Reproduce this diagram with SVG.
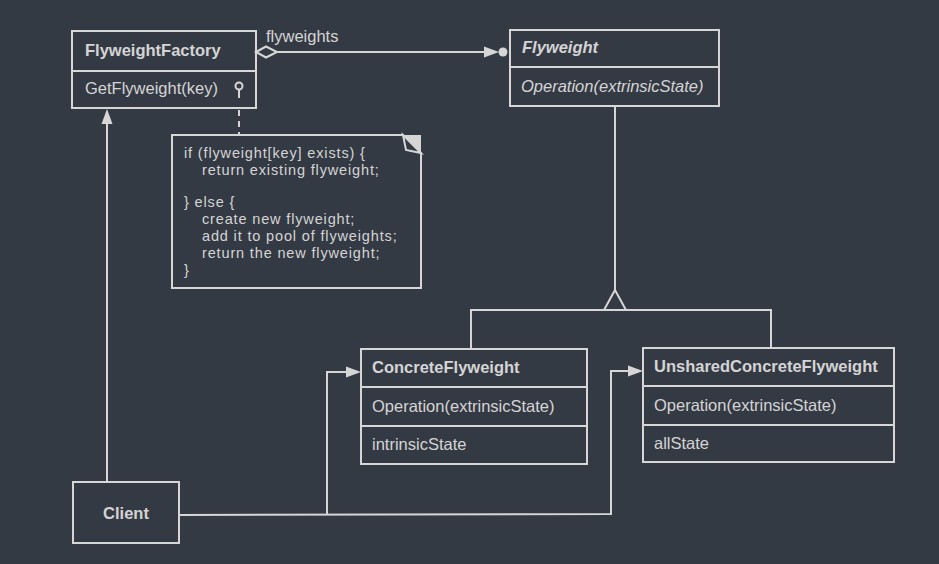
<svg xmlns="http://www.w3.org/2000/svg" width="939" height="564" viewBox="0 0 939 564">
<style>
.bg{fill:#343a44}
.box{fill:none;stroke:#d6d6d6;stroke-width:2}
.ln{fill:none;stroke:#d6d6d6;stroke-width:2}
.t{font-family:"Liberation Sans",Arial,sans-serif;font-size:16.5px;fill:#d4d4d4}
.n{font-family:"Liberation Sans",Arial,sans-serif;font-size:14.5px;letter-spacing:0.85px;fill:#d4d4d4}
.b{font-weight:bold}
.i{font-style:italic}
.ah{fill:#d6d6d6;stroke:none}
</style>
<rect class="bg" x="0" y="0" width="939" height="564"/>

<g id="connectors">
  <!-- aggregation flyweights -->
  <polygon points="256,52 266,46.5 277,52 266,57.5" fill="#343a44" stroke="#d6d6d6" stroke-width="2"/>
  <line class="ln" x1="277" y1="52" x2="486" y2="52"/>
  <polygon class="ah" points="499,52 484,46.5 484,57.5"/>
  <circle class="ah" cx="503" cy="52" r="4.5"/>
  <text class="t" x="266" y="42">flyweights</text>
  <!-- note anchor -->
  <circle cx="239" cy="86" r="3.5" fill="none" stroke="#d6d6d6" stroke-width="2"/>
  <line class="ln" x1="239" y1="89.5" x2="239" y2="98"/>
  <line class="ln" x1="239" y1="110" x2="239" y2="135" stroke-dasharray="6,5"/>
  <!-- generalization -->
  <line class="ln" x1="615" y1="106" x2="615" y2="290"/>
  <polygon points="615,290 604,310 626,310" fill="#343a44" stroke="#d6d6d6" stroke-width="2"/>
  <polyline class="ln" points="471,349 471,310 771,310 771,348"/>
  <!-- client to factory -->
  <line class="ln" x1="107" y1="482" x2="107" y2="122"/>
  <polygon class="ah" points="107,109 101.5,124 112.5,124"/>
  <!-- client to concrete flyweights -->
  <polyline class="ln" points="179,515 611,514 611,371 630,371"/>
  <polygon class="ah" points="643,371 628,365.5 628,376.5"/>
  <polyline class="ln" points="327,515 327,372 348,372"/>
  <polygon class="ah" points="361,372 346,366.5 346,377.5"/>
</g>

<g id="FlyweightFactory">
  <rect class="box" x="72" y="31" width="184" height="77"/>
  <line class="ln" x1="72" y1="71" x2="256" y2="71"/>
  <text class="t b" x="85" y="56">FlyweightFactory</text>
  <text class="t" x="85" y="94">GetFlyweight(key)</text>
</g>

<g id="Flyweight">
  <rect class="box" x="510" y="30" width="209" height="76"/>
  <line class="ln" x1="510" y1="67" x2="719" y2="67"/>
  <text class="t b i" x="522" y="53">Flyweight</text>
  <text class="t i" x="521" y="92">Operation(extrinsicState)</text>
</g>

<g id="Note">
  <path class="box" d="M172,135 H403 L421,153 V288 H172 Z"/>
  <polygon points="403,135 421,135 421,153" fill="#d6d6d6"/>
  <polygon points="403,135 406,150 421,153" fill="#343a44" stroke="#d6d6d6" stroke-width="2"/>
  <text class="n" x="184" y="158">if (flyweight[key] exists) {</text>
  <text class="n" x="202" y="175">return existing flyweight;</text>
  <text class="n" x="184" y="207">} else {</text>
  <text class="n" x="202" y="224">create new flyweight;</text>
  <text class="n" x="202" y="241">add it to pool of flyweights;</text>
  <text class="n" x="202" y="258">return the new flyweight;</text>
  <text class="n" x="184" y="275">}</text>
</g>

<g id="ConcreteFlyweight">
  <rect class="box" x="361" y="349" width="226" height="115"/>
  <line class="ln" x1="361" y1="387" x2="587" y2="387"/>
  <line class="ln" x1="361" y1="426" x2="587" y2="426"/>
  <text class="t b" x="372" y="373">ConcreteFlyweight</text>
  <text class="t" x="372" y="412">Operation(extrinsicState)</text>
  <text class="t" x="372" y="450">intrinsicState</text>
</g>

<g id="UnsharedConcreteFlyweight">
  <rect class="box" x="643" y="348" width="251" height="114"/>
  <line class="ln" x1="643" y1="386" x2="894" y2="386"/>
  <line class="ln" x1="643" y1="425" x2="894" y2="425"/>
  <text class="t b" x="654" y="372">UnsharedConcreteFlyweight</text>
  <text class="t" x="654" y="411">Operation(extrinsicState)</text>
  <text class="t" x="654" y="449">allState</text>
</g>

<g id="Client">
  <rect class="box" x="73" y="482" width="106" height="61"/>
  <text class="t b" x="126" y="519" text-anchor="middle">Client</text>
</g>
</svg>
